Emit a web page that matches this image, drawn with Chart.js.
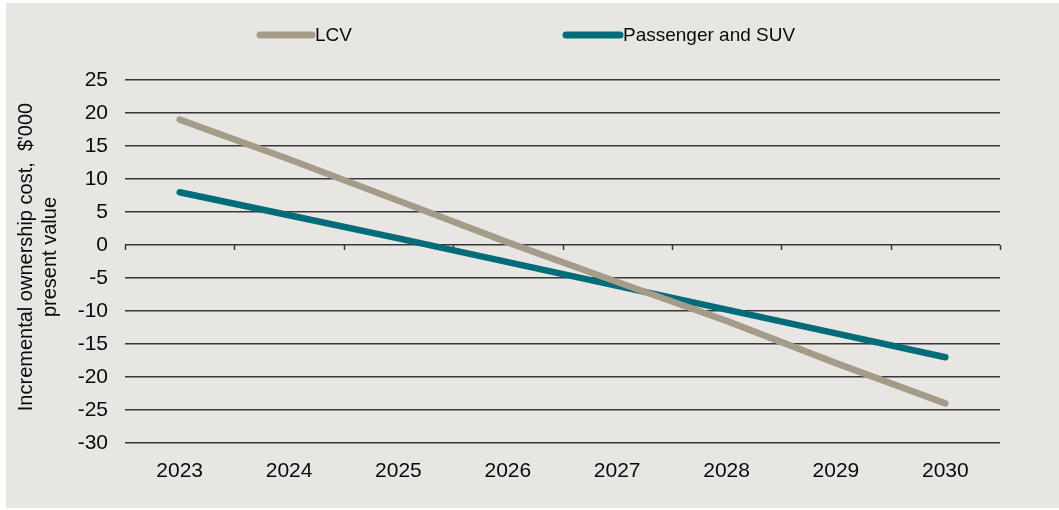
<!DOCTYPE html>
<html>
<head>
<meta charset="utf-8">
<script src="https://cdn.jsdelivr.net/npm/chart.js@4/dist/chart.umd.min.js"></script>
<style>
  html, body { margin: 0; padding: 0; background: #fff; }
  #wrap { width: 1059px; height: 510px; }
</style>
</head>
<body>
<div id="wrap"><canvas id="cvs_line" width="1059" height="510"></canvas></div>
<script>
var years = ["2023", "2024", "2025", "2026", "2027", "2028", "2029", "2030"];
var lcv = [19, 13, 6.7, 0.4, -5.6, -11.5, -17.9, -24];
var passenger = [8, 4.5, 1, -2.6, -6.2, -9.8, -13.4, -17];
var yTitle = ["Incremental ownership cost,  $'000", "present value"];

var colors = {
    lcv: 'rgb(165, 155, 137)',
    passenger: 'rgb(3, 108, 121)',
    grid: 'rgb(55, 55, 55)',
    bg: 'rgb(232, 230, 226)',
    text: 'rgb(10, 10, 10)'
};
var fontFamily = '"Liberation Sans", Arial, sans-serif';

// background, legend, axis title, ticks on the zero line
var decor = {
    id: 'decor',
    beforeDraw: function(chart) {
        var ctx = chart.ctx;
        ctx.save();
        ctx.fillStyle = '#fff';
        ctx.fillRect(0, 0, chart.width, chart.height);
        ctx.fillStyle = colors.bg;
        ctx.fillRect(6, 3, chart.width - 6, chart.height - 5);
        ctx.restore();
    },
    beforeDatasetsDraw: function(chart) {
        var ctx = chart.ctx;
        var x = chart.scales.x, y = chart.scales.y;
        var y0 = y.getPixelForValue(0);
        var step = (x.right - x.left) / years.length;
        ctx.save();
        ctx.strokeStyle = colors.grid;
        ctx.lineWidth = 1.5;
        for (var i = 0; i <= years.length; i++) {
            var px = Math.round(x.left + step * i) + 0.5;
            ctx.beginPath();
            ctx.moveTo(px, y0);
            ctx.lineTo(px, y0 + 5);
            ctx.stroke();
        }
        ctx.restore();
    },
    afterDraw: function(chart) {
        var ctx = chart.ctx;
        ctx.save();
        // legend
        var items = [{x: 260, w: 52}, {x: 566, w: 54}];
        ctx.font = '19px ' + fontFamily;
        ctx.textBaseline = 'middle';
        ctx.textAlign = 'left';
        chart.data.datasets.forEach(function(ds, i) {
            ctx.strokeStyle = ds.borderColor;
            ctx.lineWidth = 7;
            ctx.lineCap = 'round';
            ctx.beginPath();
            ctx.moveTo(items[i].x, 35);
            ctx.lineTo(items[i].x + items[i].w, 35);
            ctx.stroke();
            ctx.fillStyle = colors.text;
            ctx.fillText(ds.label, items[i].x + items[i].w + 3, 36);
        });
        // y axis title
        ctx.translate(0, 257);
        ctx.rotate(-Math.PI / 2);
        ctx.textAlign = 'center';
        ctx.font = '20px ' + fontFamily;
        ctx.fillText(yTitle[0], 0, 26);
        ctx.fillText(yTitle[1], 0, 50);
        ctx.restore();
    }
};

var config = {
    type: 'line',
    data: {
        labels: years,
        datasets: [{
            label: "LCV",
            data: lcv,
            borderColor: colors.lcv,
            backgroundColor: colors.lcv
        }, {
            label: "Passenger and SUV",
            data: passenger,
            borderColor: colors.passenger,
            backgroundColor: colors.passenger
        }]
    },
    options: {
        responsive: false,
        animation: false,
        layout: {
            padding: { top: 80, right: 59, bottom: 0, left: 0 }
        },
        elements: {
            line: { borderWidth: 6.5, tension: 0, borderCapStyle: 'round', borderJoinStyle: 'round', fill: false },
            point: { radius: 0, hoverRadius: 0 }
        },
        plugins: {
            legend: { display: false },
            title: { display: false },
            tooltip: { enabled: false }
        },
        scales: {
            x: {
                offset: true,
                grid: { display: false },
                border: { display: false },
                ticks: {
                    color: colors.text,
                    font: { family: fontFamily, size: 21 },
                    padding: 8,
                    maxRotation: 0
                },
                afterFit: function(scale) { scale.height = 67; }
            },
            y: {
                min: -30,
                max: 25,
                border: { display: false },
                grid: { color: colors.grid, lineWidth: 1.5, drawTicks: false },
                ticks: {
                    stepSize: 5,
                    color: colors.text,
                    font: { family: fontFamily, size: 21 },
                    padding: 17
                },
                afterFit: function(scale) { scale.width = 125; }
            }
        }
    },
    plugins: [decor]
};

window.onload = function() {
    window.myLine = new Chart(document.getElementById("cvs_line"), config);
};
</script>
</body>
</html>
